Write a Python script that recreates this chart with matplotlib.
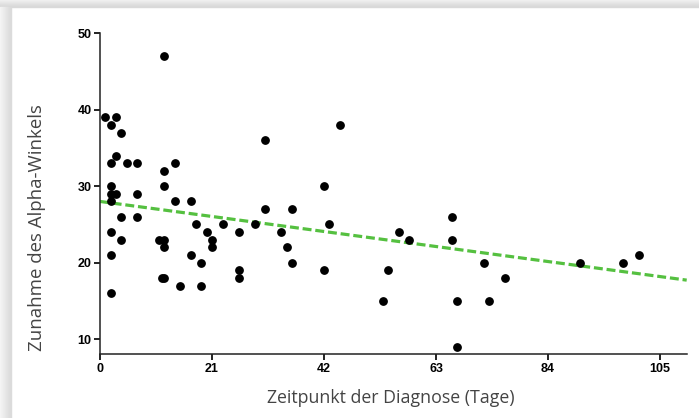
import numpy as np
import matplotlib.pyplot as plt
from matplotlib.patches import Rectangle

# Zeitpunkt der Diagnose (Tage) / Zunahme des Alpha-Winkels
days = [1, 2, 3, 4, 3, 2, 5, 7, 2, 2, 3, 2, 7, 4, 7, 2, 4, 2, 2,
        12, 12, 14, 12, 14, 17, 11, 12, 12, 12, 11.6, 15, 17, 18, 19, 19, 20,
        21, 21, 23, 26, 26, 26, 29, 31, 31, 34, 35, 36, 36,
        42, 42, 43, 45, 53, 54, 56, 58, 66, 66, 67, 67,
        72, 73, 76, 90, 98, 101]
angle = [39, 38, 39, 37, 34, 33, 33, 33, 30, 29, 29, 28, 29, 26, 26, 24, 23, 21, 16,
         47, 32, 33, 30, 28, 28, 23, 23, 22, 18, 18, 17, 21, 25, 20, 17, 24,
         23, 22, 25, 24, 19, 18, 25, 36, 27, 24, 22, 27, 20,
         30, 19, 25, 38, 15, 19, 24, 23, 26, 23, 15, 9,
         20, 15, 18, 20, 20, 21]

# Regressionsgerade
fit_intercept = 28.0
fit_slope = -0.0936

xticks = [0, 21, 42, 63, 84, 105]
yticks = [10, 20, 30, 40, 50]

plt.rcParams['font.family'] = ['Liberation Sans Narrow', 'Liberation Sans', 'DejaVu Sans']

fig = plt.figure(figsize=(6.99, 4.18), dpi=100)

# grauer Schatten oben und links
W, H = 699, 418
for i in range(7):
    c = 0.94 - 0.015 * i
    fig.patches.append(Rectangle((0, 1 - (i + 1) / H), 1, 1 / H, transform=fig.transFigure,
                                 color=(c, c, c), zorder=0))
for i in range(11):
    c = 0.96 - 0.01 * i
    fig.patches.append(Rectangle((i / W, 0), 1 / W, 1 - 7 / H, transform=fig.transFigure,
                                 color=(c, c, c), zorder=0))

ax = fig.add_axes([100 / W, 1 - 354.3 / H, 586.7 / W, 321 / H])
ax.patch.set_alpha(0)

ax.scatter(days, angle, s=28, color='black', zorder=3, clip_on=False)

xl = np.array([0, 110])
ax.plot(xl, fit_intercept + fit_slope * xl, color='#55c040', lw=2.3,
        dashes=(2.8, 1.2), zorder=2)

ax.set_xlim(0, 110)
ax.set_ylim(8, 50)
ax.set_xticks(xticks)
ax.set_yticks(yticks)
ax.spines['top'].set_visible(False)
ax.spines['right'].set_visible(False)
for s in ['left', 'bottom']:
    ax.spines[s].set_linewidth(1.1)
    ax.spines[s].set_color('#222222')
ax.tick_params(length=4, width=1.4, color='#222222', pad=2)
for lab in ax.get_xticklabels() + ax.get_yticklabels():
    lab.set_fontsize(9)
    lab.set_fontweight('bold')

fig.text(391 / W, 1 - 398 / H, 'Zeitpunkt der Diagnose (Tage)', ha='center', va='center',
         fontsize=12.8, color='#444444', family=['Open Sans', 'DejaVu Sans'])
fig.text(36.7 / W, 1 - 228 / H, 'Zunahme des Alpha-Winkels', ha='center', va='center',
         rotation=90, fontsize=13.4, color='#444444', family=['Open Sans', 'DejaVu Sans'])

fig.savefig('out.png', dpi=100)
